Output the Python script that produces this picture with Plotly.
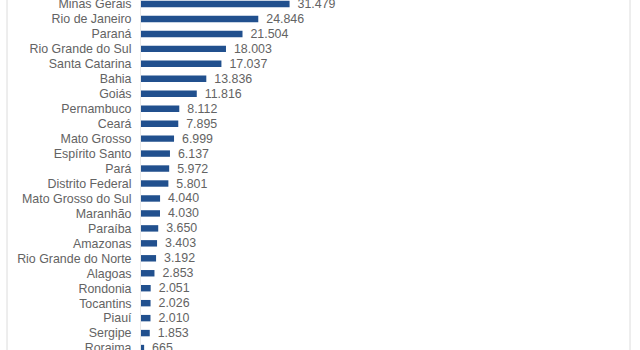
import plotly.graph_objects as go

# Brazilian states, ordered from largest to smallest
states = [
    "Minas Gerais", "Rio de Janeiro", "Paraná", "Rio Grande do Sul",
    "Santa Catarina", "Bahia", "Goiás", "Pernambuco", "Ceará",
    "Mato Grosso", "Espírito Santo", "Pará", "Distrito Federal",
    "Mato Grosso do Sul", "Maranhão", "Paraíba", "Amazonas",
    "Rio Grande do Norte", "Alagoas", "Rondonia", "Tocantins", "Piauí",
    "Sergipe", "Roraima",
]
values = [
    31479, 24846, 21504, 18003, 17037, 13836, 11816, 8112, 7895,
    6999, 6137, 5972, 5801, 4040, 4030, 3650, 3403, 3192, 2853,
    2051, 2026, 2010, 1853, 665,
]


def fmt(v):
    # Portuguese thousands separator, with a small gap before the number
    return "\u2009\u2009" + f"{v:,}".replace(",", ".")


labels = [fmt(v) for v in values]

TEXT = "#636363"
FONT = "Liberation Sans, Arial, sans-serif"

fig = go.Figure(
    go.Bar(
        x=values,
        y=states,
        orientation="h",
        marker=dict(color="#21508e", line=dict(width=0)),
        text=labels,
        textposition="outside",
        constraintext="none",
        textfont=dict(color=TEXT, size=12.4, family=FONT),
        cliponaxis=False,
        hoverinfo="skip",
    )
)

fig.update_layout(
    width=640,
    height=350,
    margin=dict(l=141, r=10, t=0, b=0, pad=0),
    paper_bgcolor="white",
    plot_bgcolor="white",
    showlegend=False,
    bargap=0.57,
    uniformtext=dict(minsize=12.4, mode="show"),
    font=dict(family=FONT, color=TEXT, size=12.4),
    xaxis=dict(
        range=[0, 103600],
        visible=False,
        automargin=False,
        fixedrange=True,
    ),
    yaxis=dict(
        categoryorder="array",
        categoryarray=states,
        tickmode="array",
        tickvals=states,
        ticktext=states,
        range=[23.13, -0.267],
        automargin=False,
        showgrid=False,
        zeroline=False,
        showline=True,
        linecolor="#e8e8e8",
        linewidth=1,
        ticks="outside",
        ticklen=6,
        tickcolor="rgba(0,0,0,0)",
        tickfont=dict(color=TEXT, size=12.4, family=FONT),
        fixedrange=True,
    ),
    shapes=[
        dict(type="line", xref="paper", yref="paper",
             x0=-0.274, x1=-0.274, y0=0, y1=1,
             line=dict(color="#dcdcdc", width=1)),
        dict(type="line", xref="paper", yref="paper",
             x0=1.0, x1=1.0, y0=0, y1=1,
             line=dict(color="#dcdcdc", width=1)),
    ],
)

fig.write_html("out.html")
